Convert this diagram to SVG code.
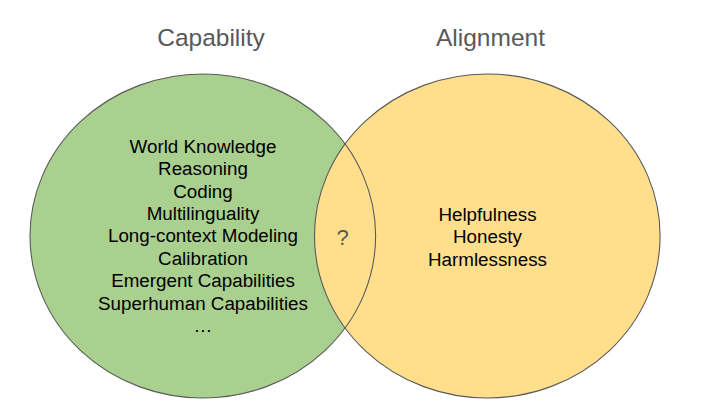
<svg xmlns="http://www.w3.org/2000/svg" width="701" height="420" viewBox="0 0 701 420">
  <style>
    .title { font-family: "Liberation Sans", Arial, sans-serif; font-size: 24.5px; fill: #595959; text-anchor: middle; }
    .item { font-family: "Liberation Sans", Arial, sans-serif; font-size: 18.8px; fill: #000000; text-anchor: middle; }
    .q { font-family: "Liberation Sans", Arial, sans-serif; font-size: 22px; fill: #595959; text-anchor: middle; }
    .outline { fill: none; stroke: #595959; stroke-width: 1.1; }
  </style>
  <rect width="701" height="420" fill="#ffffff"/>
  <g id="capability">
    <ellipse cx="202.8" cy="236" rx="172.8" ry="162" fill="#a9d08e"/>
  </g>
  <g id="alignment">
    <ellipse cx="487.3" cy="236" rx="172.8" ry="162" fill="#ffdf8c"/>
  </g>
  <g id="outlines">
    <ellipse class="outline" cx="202.8" cy="236" rx="172.8" ry="162"/>
    <ellipse class="outline" cx="487.3" cy="236" rx="172.8" ry="162"/>
  </g>
  <g id="titles">
    <text class="title" x="211" y="46">Capability</text>
    <text class="title" x="490.5" y="46">Alignment</text>
  </g>
  <g id="capability-items">
    <text class="item" x="203" y="152.7">World Knowledge</text>
    <text class="item" x="203" y="175.1">Reasoning</text>
    <text class="item" x="203" y="197.5">Coding</text>
    <text class="item" x="203" y="219.9">Multilinguality</text>
    <text class="item" x="203" y="242.3">Long-context Modeling</text>
    <text class="item" x="203" y="264.7">Calibration</text>
    <text class="item" x="203" y="287.1">Emergent Capabilities</text>
    <text class="item" x="203" y="309.5">Superhuman Capabilities</text>
    <text class="item" x="203" y="331.9">…</text>
  </g>
  <g id="alignment-items">
    <text class="item" x="487.5" y="220.7">Helpfulness</text>
    <text class="item" x="487.5" y="243.3">Honesty</text>
    <text class="item" x="487.5" y="266">Harmlessness</text>
  </g>
  <g id="intersection">
    <text class="q" x="342.5" y="245">?</text>
  </g>
</svg>
